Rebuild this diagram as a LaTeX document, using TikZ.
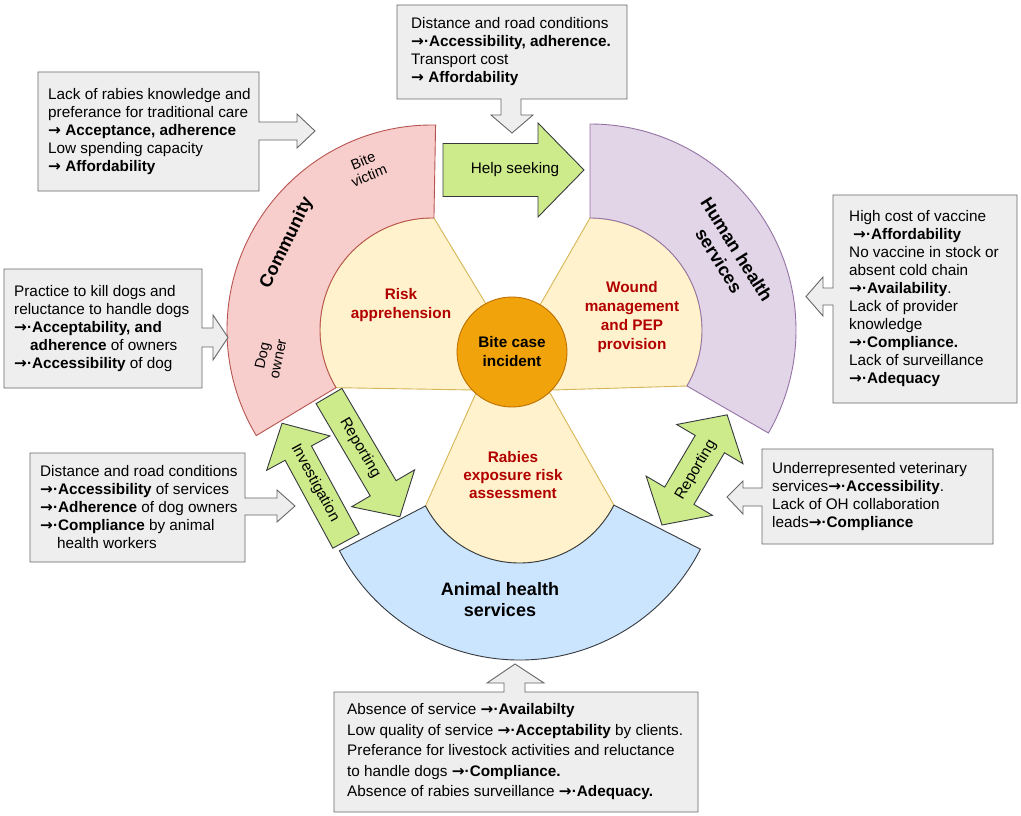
\documentclass[tikz,border=0pt]{standalone}
\usepackage{fontspec}
\setmainfont{Liberation Sans}
\newfontfamily\arrowfont{DejaVu Sans}
\newcommand{\ra}{{\arrowfont\bfseries →}}
\definecolor{pinkfill}{HTML}{F8CECC}
\definecolor{pinkdraw}{HTML}{B85450}
\definecolor{purplefill}{HTML}{E1D5E7}
\definecolor{purpledraw}{HTML}{9673A6}
\definecolor{bluefill}{HTML}{CCE5FF}
\definecolor{darkdraw}{HTML}{36393D}
\definecolor{petalfill}{HTML}{FFF2CC}
\definecolor{petaldraw}{HTML}{D6B656}
\definecolor{orangefill}{HTML}{F0A30A}
\definecolor{orangedraw}{HTML}{BD7000}
\definecolor{greenfill}{HTML}{CDEB8B}
\definecolor{boxfill}{HTML}{EEEEEE}
\definecolor{boxdraw}{HTML}{666666}
\definecolor{petalred}{HTML}{B20000}

\begin{document}
\begin{tikzpicture}[x=1pt, y=1pt]
\tikzset{every node/.style={inner sep=0pt}}
\tikzset{petal/.style={fill=petalfill, draw=petaldraw, line width=0.9pt},
  band/.style={line width=0.9pt},
  greenarrow/.style={fill=greenfill, draw=darkdraw, line width=0.9pt},
  callout/.style={fill=boxfill, draw=boxdraw, line width=0.9pt},
  boxtext/.style={anchor=west, align=left, font=\fontsize{15.3}{18}\selectfont},
  arrowtext/.style={font=\fontsize{15.3}{18}\selectfont},
  petaltext/.style={align=center, text=petalred, font=\fontsize{15.3}{19}\selectfont\bfseries},
  bandtext/.style={align=center, font=\fontsize{18}{21}\selectfont\bfseries},
  subtext/.style={align=center, font=\fontsize{14.5}{16}\selectfont}}
\useasboundingbox (0,0) rectangle (1021,-816);
\fill[white] (0,0) rectangle (1021,-816);

% centres of the three bands
\coordinate (Cp) at (432,-330);
\coordinate (Cu) at (590,-330);
\coordinate (Cb) at (519.5,-457);

% petals
\draw[petal] ([shift={(89:112)}]Cp) -- (486,-304) -- (474,-390) -- ([shift={(211:112)}]Cp) arc[start angle=211, end angle=89, radius=112] -- cycle;
\draw[petal] ([shift={(90:112)}]Cu) -- (540,-305) -- (553,-390) -- ([shift={(-30:112)}]Cu) arc[start angle=-30, end angle=90, radius=112] -- cycle;
\draw[petal] (476,-393) -- ([shift={(207.5:106)}]Cb) arc[start angle=207.5, end angle=333, radius=106] -- (550,-393) -- cycle;

% bands
\draw[band, fill=pinkfill, draw=pinkdraw] ([shift={(89:112)}]Cp) -- ([shift={(89:205)}]Cp) arc[start angle=89, end angle=211, radius=205] -- ([shift={(211:112)}]Cp) arc[start angle=211, end angle=89, radius=112] -- cycle;
\draw[band, fill=purplefill, draw=purpledraw] ([shift={(90:112)}]Cu) -- ([shift={(90:206)}]Cu) arc[start angle=90, end angle=-30, radius=206] -- ([shift={(-30:112)}]Cu) arc[start angle=-30, end angle=90, radius=112] -- cycle;
\draw[band, fill=bluefill, draw=darkdraw] ([shift={(207.5:106)}]Cb) -- ([shift={(207.5:203)}]Cb) arc[start angle=207.5, end angle=333, radius=203] -- ([shift={(333:106)}]Cb) arc[start angle=333, end angle=207.5, radius=106] -- cycle;

\node (bite) [circle, fill=orangefill, draw=orangedraw, line width=0.9pt, minimum size=110, align=center, font=\fontsize{15.3}{19}\selectfont\bfseries] at (512,-352) {Bite case\\incident};

% band and petal labels
\node (community) [bandtext, rotate=64] at (287,-243) {Community};
\node (bitevictim) [subtext, rotate=22] at (366,-168) {Bite\\victim};
\node (dogowner) [subtext, rotate=78] at (270,-357) {Dog\\owner};
\node (humanhealth) [bandtext, rotate=-58] at (728,-255) {Human health\\services};
\node (animalhealth) [bandtext] at (500,-600) {Animal health\\services};
\node (riskappr) [petaltext] at (401,-305) {Risk\\apprehension};
\node (woundmgmt) [petaltext] at (632,-317) {Wound\\management\\and PEP\\provision};
\node (rabiesexp) [petaltext, font=\fontsize{15.3}{18}\selectfont\bfseries] at (513,-475) {Rabies\\exposure risk\\assessment};

% green arrows
\begin{scope}[shift={(443,-170)}]
\draw[greenarrow] (0,-26.5) -- (95,-26.5) -- (95,-47) -- (141,0) -- (95,47) -- (95,26.5) -- (0,26.5) -- cycle;
\end{scope}
\node (helpseek) [arrowtext] at (515,-170) {Help seeking};
\begin{scope}[shift={(329,-396)}, rotate=-59.6]
\draw[greenarrow] (0,-15) -- (107,-15) -- (107,-36.5) -- (140,0) -- (107,36.5) -- (107,15) -- (0,15) -- cycle;
\end{scope}
\node (reportleft) [arrowtext, rotate=-59.6] at (360,-448) {Reporting};
\begin{scope}[shift={(346,-541)}, rotate=118.5]
\draw[greenarrow] (0,-15) -- (100,-15) -- (100,-36) -- (134,0) -- (100,36) -- (100,15) -- (0,15) -- cycle;
\end{scope}
\node (investig) [arrowtext, rotate=-61.5] at (315,-483) {Investigation};
\begin{scope}[shift={(662,-525)}, rotate=59.4]
\draw[greenarrow] (0,0) -- (34,38.5) -- (34,17) -- (94,17) -- (94,38.5) -- (128,0) -- (94,-38.5) -- (94,-17) -- (34,-17) -- (34,-38.5) -- cycle;
\end{scope}
\node (reportright) [arrowtext, rotate=59.4] at (696,-470) {Reporting};

% callout boxes
\draw[callout] (38,-72) -- (259,-72) -- (259,-122) -- (297,-122) -- (297,-114) -- (315,-131) -- (297,-148) -- (297,-140) -- (259,-140) -- (259,-191) -- (38,-191) -- cycle;
\node (lackknow) [boxtext] at (48,-131.5) {Lack of rabies knowledge and\\preferance for traditional care\\\textbf{\ra{} Acceptance, adherence}\\Low spending capacity\\\textbf{\ra{} Affordability}};

\draw[callout] (397,-5) -- (627,-5) -- (627,-99) -- (521,-99) -- (521,-115) -- (533,-115) -- (512,-133) -- (491,-115) -- (501,-115) -- (501,-99) -- (397,-99) -- cycle;
\node (distroad) [boxtext] at (411,-52) {Distance and road conditions\\\textbf{\ra·Accessibility, adherence.}\\Transport cost\\\textbf{\ra{} Affordability}};

\draw[callout] (833,-195) -- (1017,-195) -- (1017,-403) -- (833,-403) -- (833,-305) -- (823,-305) -- (823,-316) -- (806,-296.5) -- (823,-277) -- (823,-288) -- (833,-288) -- cycle;
\node (vaccost) [boxtext] at (849,-299) {High cost of vaccine\\\hspace*{4pt}\textbf{\ra·Affordability}\\No vaccine in stock or\\absent cold chain\\\textbf{\ra·Availability}.\\Lack of provider\\knowledge\\\textbf{\ra·Compliance.}\\Lack of surveillance\\\textbf{\ra·Adequacy}};

\draw[callout] (4,-269) -- (202,-269) -- (202,-328) -- (213,-328) -- (213,-315) -- (228,-337.5) -- (213,-360) -- (213,-347) -- (202,-347) -- (202,-388) -- (4,-388) -- cycle;
\node (killdogs) [boxtext] at (14,-328.5) {Practice to kill dogs and\\reluctance to handle dogs\\\textbf{\ra·Acceptability, and}\\\hspace*{16pt}\textbf{adherence} of owners\\\textbf{\ra·Accessibility} of dog};

\draw[callout] (30,-453) -- (245,-453) -- (245,-498) -- (277,-498) -- (277,-490) -- (295,-506) -- (277,-522) -- (277,-515) -- (245,-515) -- (245,-562) -- (30,-562) -- cycle;
\node (distserv) [boxtext] at (40,-507.5) {Distance and road conditions\\\textbf{\ra·Accessibility} of services\\\textbf{\ra·Adherence} of dog owners\\\textbf{\ra·Compliance} by animal\\\hspace*{17pt}health workers};

\draw[callout] (762,-449) -- (993,-449) -- (993,-544) -- (762,-544) -- (762,-506) -- (743,-506) -- (743,-514) -- (727,-497) -- (743,-481) -- (743,-488) -- (762,-488) -- cycle;
\node (vetserv) [boxtext] at (772,-496.5) {Underrepresented veterinary\\services\textbf{\ra·Accessibility}.\\Lack of OH collaboration\\leads\textbf{\ra·Compliance}};

\draw[callout] (334,-692) -- (504,-692) -- (504,-683) -- (487,-683) -- (515,-664) -- (544,-683) -- (525,-683) -- (525,-692) -- (698,-692) -- (698,-812) -- (334,-812) -- cycle;
\node (absserv) [boxtext, font=\fontsize{15.3}{20.5}\selectfont] at (347,-752) {Absence of service \textbf{\ra·Availabilty}\\Low quality of service \textbf{\ra·Acceptability} by clients.\\Preferance for livestock activities and reluctance\\to handle dogs \textbf{\ra·Compliance.}\\Absence of rabies surveillance \textbf{\ra·Adequacy.}};
\end{tikzpicture}
\end{document}
